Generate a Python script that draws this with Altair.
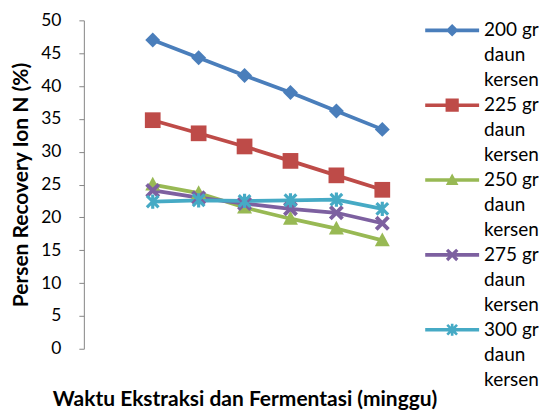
import math
import altair as alt
import pandas as pd

# ---- data ----
weeks = [1, 2, 3, 4, 5, 6]
series = [
    "200 gr daun kersen",
    "225 gr daun kersen",
    "250 gr daun kersen",
    "275 gr daun kersen",
    "300 gr daun kersen",
]
v200 = [47.0, 44.3, 41.6, 39.0, 36.2, 33.4]
v225 = [34.8, 32.8, 30.8, 28.6, 26.4, 24.2]
v250 = [25.0, 23.7, 21.5, 19.8, 18.3, 16.5]
v275 = [24.1, 23.0, 22.1, 21.3, 20.7, 19.1]
v300 = [22.4, 22.6, 22.5, 22.6, 22.7, 21.3]
y_ticks = [0, 5, 10, 15, 20, 25, 30, 35, 40, 45, 50]

colors = ["#4A7EBB", "#BE4B48", "#98B954", "#7D60A0", "#46AAC5"]

rows = []
for name, vals in zip(series, [v200, v225, v250, v275, v300]):
    for w, v in zip(weeks, vals):
        rows.append({"series": name, "week": w, "value": v})
df = pd.DataFrame(rows)

FONT = "Lato"


# ---- marker glyphs (built in pixels, normalised to Vega's unit symbol) ----
def path(polys, unit):
    out = []
    for poly in polys:
        out.append("M" + "L".join(f"{x / unit:.4f},{y / unit:.4f}" for x, y in poly) + "Z")
    return "".join(out)


def rect(x0, y0, x1, y1):
    return [(x0, y0), (x1, y0), (x1, y1), (x0, y1)]


def xshape(L, t, dy=0.0):
    plus = [(-t, -L), (t, -L), (t, -t), (L, -t), (L, t), (t, t), (t, L), (-t, L),
            (-t, t), (-L, t), (-L, -t), (-t, -t)]
    r = 1 / math.sqrt(2)
    return [((x - y) * r, (x + y) * r + dy) for x, y in plus]


def markers(s, dy=0.0):
    return [
        [[(0, -s + dy), (s, dy), (0, s + dy), (-s, dy)]],
        [rect(-s * 1.05, -s * 1.05 + dy, s * 1.05, s * 1.05 + dy)],
        [[(0, -s * 1.05 + dy), (s, s * 0.8 + dy), (-s, s * 0.8 + dy)]],
        [xshape(s * 1.15, s * 0.26, dy)],
        [xshape(s * 1.1, s * 0.21, dy), rect(-s * 0.21, -s * 0.95 + dy, s * 0.21, s * 0.95 + dy)],
    ]


PLOT_SIZE = 225          # sqrt = 15 px  -> unit 7.5 px
plot_unit = math.sqrt(PLOT_SIZE) / 2
plot_shapes = [path(m, plot_unit) for m in markers(7.5)]

LEG_SIZE = 20 * 20       # unit 10 px; glyph drawn 54 px wide
leg_unit = math.sqrt(LEG_SIZE) / 2
leg_shapes = [
    path([rect(-27, -1.8, 27, 1.8)] + m, leg_unit)
    for m in markers(6.3)
]

x_scale = alt.Scale(domain=[-0.5, 6.5], nice=False, zero=False)
y_scale = alt.Scale(domain=[0, 50], nice=False)

x_enc = alt.X(
    "week:Q",
    scale=x_scale,
    axis=alt.Axis(
        title="Waktu Ekstraksi dan Fermentasi (minggu)",
        labels=False, ticks=False, domain=False, grid=False,
        titleFont=FONT, titleFontSize=21, titleFontWeight="bold",
        titleColor="black", titlePadding=40,
    ),
)
y_enc = alt.Y(
    "value:Q",
    scale=y_scale,
    axis=alt.Axis(
        title="Persen Recovery Ion N (%)",
        values=y_ticks, grid=False,
        domainColor="#868686", tickColor="#868686", tickSize=5,
        labelFont=FONT, labelFontSize=17.5, labelColor="black", labelPadding=18,
        titleFont=FONT, titleFontSize=21, titleFontWeight="bold",
        titleColor="black", titlePadding=9,
    ),
)

color_scale = alt.Scale(domain=series, range=colors)

legend_def = alt.Legend(
    title=None, orient="right", offset=37, padding=0,
    symbolSize=LEG_SIZE, symbolStrokeWidth=0,
    labelFont=FONT, labelFontSize=19, labelColor="black",
    labelBaseline="middle", labelOffset=22, labelLimit=200,
    rowPadding=5,
    labelExpr="split(replace(replace(datum.label, ' daun', '|daun'), ' kersen', '|kersen'), '|')",
)

lines = alt.Chart(df).mark_line(strokeWidth=3.75).encode(
    x=x_enc, y=y_enc,
    color=alt.Color("series:N", scale=color_scale, legend=None),
)

points = alt.Chart(df).mark_point(filled=True, size=PLOT_SIZE, opacity=1, strokeWidth=0).encode(
    x=x_enc, y=y_enc,
    color=alt.Color("series:N", scale=color_scale, legend=None),
    shape=alt.Shape("series:N", scale=alt.Scale(domain=series, range=plot_shapes), legend=None),
)

legend_layer = alt.Chart(df).transform_filter("false").mark_point(
    filled=True, size=LEG_SIZE, opacity=1, strokeWidth=0
).encode(
    x=x_enc, y=y_enc,
    color=alt.Color("series:N", scale=alt.Scale(domain=series, range=colors), legend=legend_def),
    shape=alt.Shape("series:N", scale=alt.Scale(domain=series, range=leg_shapes), legend=legend_def),
)

chart = (
    alt.layer(lines, points, legend_layer)
    .resolve_scale(color="independent", shape="independent")
    .properties(
        width=322, height=329,
        padding={"left": 2, "top": 3, "right": 0, "bottom": 0},
        background="white",
    )
    .configure(style={"guide-label": {"lineHeight": 25}})
    .configure_view(stroke=None)
)

chart.save("out.html", embed_options={"renderer": "svg", "actions": False})
